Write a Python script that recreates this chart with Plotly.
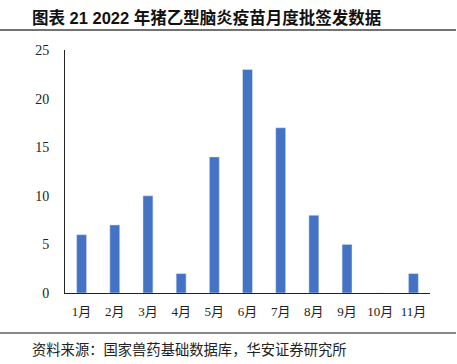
import plotly.graph_objects as go

months = ["1月", "2月", "3月", "4月", "5月", "6月", "7月", "8月", "9月", "10月", "11月"]
counts = [6, 7, 10, 2, 14, 23, 17, 8, 5, 0, 2]
y_ticks = [0, 5, 10, 15, 20, 25]

title_text = "<b>图表 21 2022 年猪乙型脑炎疫苗月度批签发数据</b>"
source_text = "资料来源：国家兽药基础数据库，华安证券研究所"

W, H = 457, 364
L, R, T, B = 65, 27, 50, 71
pw, ph = W - L - R, H - T - B

def px_x(x):
    return (x - L) / pw

def px_y(y):
    return (H - B - y) / ph

fig = go.Figure(go.Bar(x=months, y=counts, marker_color="#4472C4", width=0.3))

fig.update_layout(
    width=W, height=H,
    margin=dict(l=L, r=R, t=T, b=B),
    paper_bgcolor="white", plot_bgcolor="white",
    showlegend=False,
    font=dict(family="Liberation Serif, Noto Sans CJK SC", size=13, color="#222"),
)
fig.update_xaxes(
    showline=True, linecolor="#222", linewidth=1.3,
    ticks="", showgrid=False,
    tickfont=dict(family="Liberation Serif, Noto Sans CJK SC", size=13),
    ticklabelstandoff=6,
)
fig.update_yaxes(
    range=[0, 25], tickvals=y_ticks,
    showline=True, linecolor="#222", linewidth=1,
    ticks="", showgrid=False, zeroline=False,
    tickfont=dict(family="Liberation Serif", size=14),
    ticklabelstandoff=12,
)

fig.add_annotation(
    text=title_text, xref="paper", yref="paper",
    x=px_x(30), y=px_y(18), xanchor="left", yanchor="middle",
    showarrow=False,
    font=dict(family="Liberation Sans, Noto Sans CJK SC", size=16.5, color="#111"),
)
fig.add_annotation(
    text=source_text, xref="paper", yref="paper",
    x=px_x(30), y=px_y(348), xanchor="left", yanchor="middle",
    showarrow=False,
    font=dict(family="Noto Sans CJK SC", size=14.3, color="#222"),
)
fig.add_shape(type="line", xref="paper", yref="paper",
              x0=px_x(0), x1=px_x(456), y0=px_y(30), y1=px_y(30),
              line=dict(color="#444", width=1.5))
fig.add_shape(type="line", xref="paper", yref="paper",
              x0=px_x(0), x1=px_x(456), y0=px_y(333), y1=px_y(333),
              line=dict(color="#888", width=2))

fig.write_html("out.html", config={"displayModeBar": False},
               post_script="document.body.style.margin='0';")
